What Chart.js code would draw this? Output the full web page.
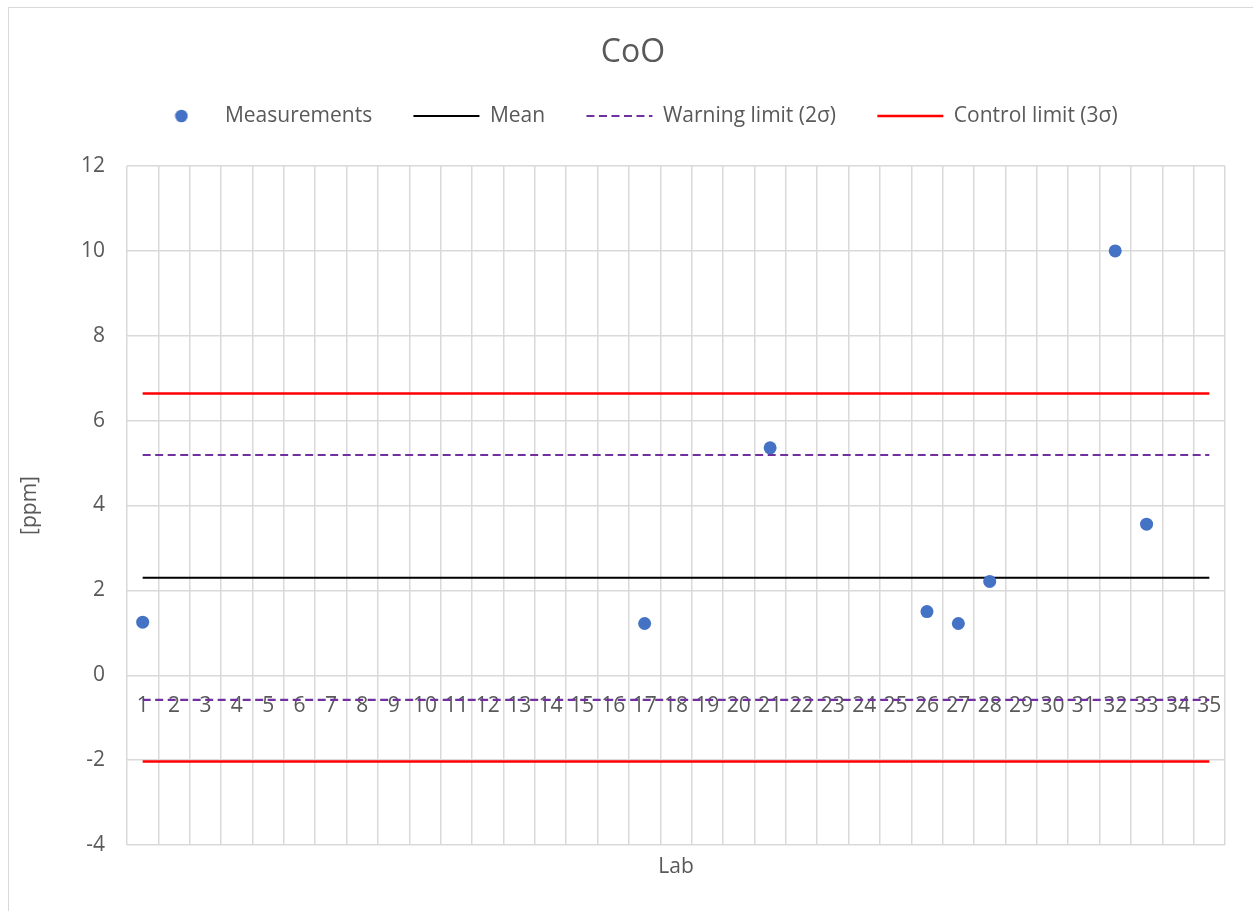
<!DOCTYPE html>
<html>
<head>
<meta charset="utf-8">
<script src="https://cdn.jsdelivr.net/npm/chart.js@4.4.1/dist/chart.umd.min.js"></script>
<style>
  html, body { margin: 0; padding: 0; background: #ffffff; }
  #wrap { position: relative; width: 1253px; height: 911px; overflow: hidden; }
  #frame { position: absolute; left: 8px; top: 7px; width: 1300px; height: 960px; border: 1px solid #d9d9d9; box-sizing: border-box; }
  #c { position: absolute; left: 0; top: 0; }
</style>
</head>
<body>
<div id="wrap">
  <div id="frame"></div>
  <canvas id="c" width="1253" height="911"></canvas>
</div>
<script>
// ---- data ----
const chartTitle = 'CoO';
const labLabels = ['1','2','3','4','5','6','7','8','9','10','11','12','13','14','15','16','17','18','19','20',
                   '21','22','23','24','25','26','27','28','29','30','31','32','33','34','35'];
const measuredLabs   = ['1', '17', '21', '26', '27', '28', '32', '33'];
const measuredValues = [1.25, 1.22, 5.36, 1.50, 1.22, 2.21, 10.0, 3.56];
const meanValue = 2.30;
const warningUpper = 5.19;
const warningLower = -0.58;
const controlUpper = 6.64;
const controlLower = -2.03;
const yTickMin = -4, yTickMax = 12, yTickStep = 2;

// ---- helpers ----
const firstLab = labLabels[0];
const lastLab = labLabels[labLabels.length - 1];
const hLine = v => [{x: firstLab, y: v}, {x: lastLab, y: v}];
const measurementPoints = measuredLabs.map((lab, i) => ({x: lab, y: measuredValues[i]}));

const textColor = '#595959';
const gridColor = '#d9d9d9';
const fontFamily = '"Open Sans", "Liberation Sans", sans-serif';
const baseSize = 21;

// legend marker for measurements (dot)
const dot = document.createElement('canvas');
dot.width = 14; dot.height = 14;
(function(){
  const g = dot.getContext('2d');
  g.fillStyle = '#4472c4';
  g.beginPath(); g.arc(7, 7, 6.3, 0, Math.PI * 2); g.fill();
})();

const lineStyle = {showLine: true, pointRadius: 0, pointHoverRadius: 0, fill: false, tension: 0};

new Chart(document.getElementById('c'), {
  type: 'line',
  data: {
    labels: labLabels,
    datasets: [
      { label: 'Measurements', data: measurementPoints, showLine: false,
        pointRadius: 6.5, pointHoverRadius: 6.5, pointBorderWidth: 0,
        pointBackgroundColor: '#4472c4', borderColor: '#4472c4', backgroundColor: '#4472c4', pointStyle: 'circle' },
      Object.assign({ label: 'Mean', data: hLine(meanValue), borderColor: '#000000', borderWidth: 2 }, lineStyle),
      Object.assign({ label: 'Warning limit (2σ)', data: hLine(warningUpper), borderColor: '#7030a0', borderWidth: 2.2, borderDash: [8, 4.5] }, lineStyle),
      Object.assign({ label: 'Control limit (3σ)', data: hLine(controlUpper), borderColor: '#ff0000', borderWidth: 2.5 }, lineStyle),
      Object.assign({ label: 'Warning lower', data: hLine(warningLower), borderColor: '#7030a0', borderWidth: 2.2, borderDash: [8, 4.5] }, lineStyle),
      Object.assign({ label: 'Control lower', data: hLine(controlLower), borderColor: '#ff0000', borderWidth: 2.5 }, lineStyle)
    ]
  },
  options: {
    responsive: false,
    animation: false,
    events: [],
    layout: { padding: { left: 41, right: 28, top: 0, bottom: 0 } },
    plugins: {
      tooltip: { enabled: false },
      title: {
        display: true, text: chartTitle, color: textColor,
        font: { family: fontFamily, size: 32, weight: 'normal', lineHeight: 0.7 },
        padding: { top: 41.8, bottom: 0 }
      },
      subtitle: {
        display: true, text: '', weight: 500,
        font: { size: 1, lineHeight: 1 },
        padding: { top: 28.5, bottom: 0 }
      },
      legend: {
        display: true, position: 'top',
        labels: {
          color: textColor,
          font: { family: fontFamily, size: baseSize },
          usePointStyle: true,
          pointStyleWidth: 66,
          padding: 41.3,
          filter: item => item.datasetIndex < 4,
          generateLabels: chart => {
            const items = Chart.defaults.plugins.legend.labels.generateLabels(chart);
            items.forEach(it => {
              const ds = chart.data.datasets[it.datasetIndex];
              if (it.datasetIndex === 0) {
                it.pointStyle = dot;
              } else {
                it.pointStyle = 'line';
                it.strokeStyle = ds.borderColor;
                it.lineWidth = ds.borderWidth;
                it.lineDash = ds.borderDash || [];
              }
            });
            return items;
          }
        }
      }
    },
    scales: {
      x: {
        type: 'category', position: 'bottom', offset: true,
        grid: { display: true, offset: true, color: gridColor, lineWidth: 1.5, drawTicks: false },
        border: { display: false },
        ticks: { display: false },
        title: { display: true, text: 'Lab', color: textColor,
                 font: { family: fontFamily, size: baseSize }, padding: { top: 9.4, bottom: 31.4 } }
      },
      x2: {
        type: 'category', position: { y: 0 }, offset: true,
        labels: labLabels,
        grid: { display: false, drawTicks: false },
        border: { display: false },
        ticks: { color: textColor, font: { family: fontFamily, size: baseSize }, padding: 18.5,
                 autoSkip: false, maxRotation: 0, minRotation: 0 },
        afterFit: s => { s.height = 0; }
      },
      y: {
        type: 'linear', min: yTickMin, max: yTickMax,
        grid: { color: gridColor, lineWidth: 1.5, drawTicks: false },
        border: { display: false },
        ticks: { stepSize: yTickStep, color: textColor, font: { family: fontFamily, size: baseSize }, padding: 22 },
        title: { display: true, text: '[ppm]', color: textColor,
                 font: { family: fontFamily, size: baseSize }, padding: { top: -24, bottom: 0 } },
        afterFit: s => { s.width = 86; }
      }
    }
  }
});
</script>
</body>
</html>
